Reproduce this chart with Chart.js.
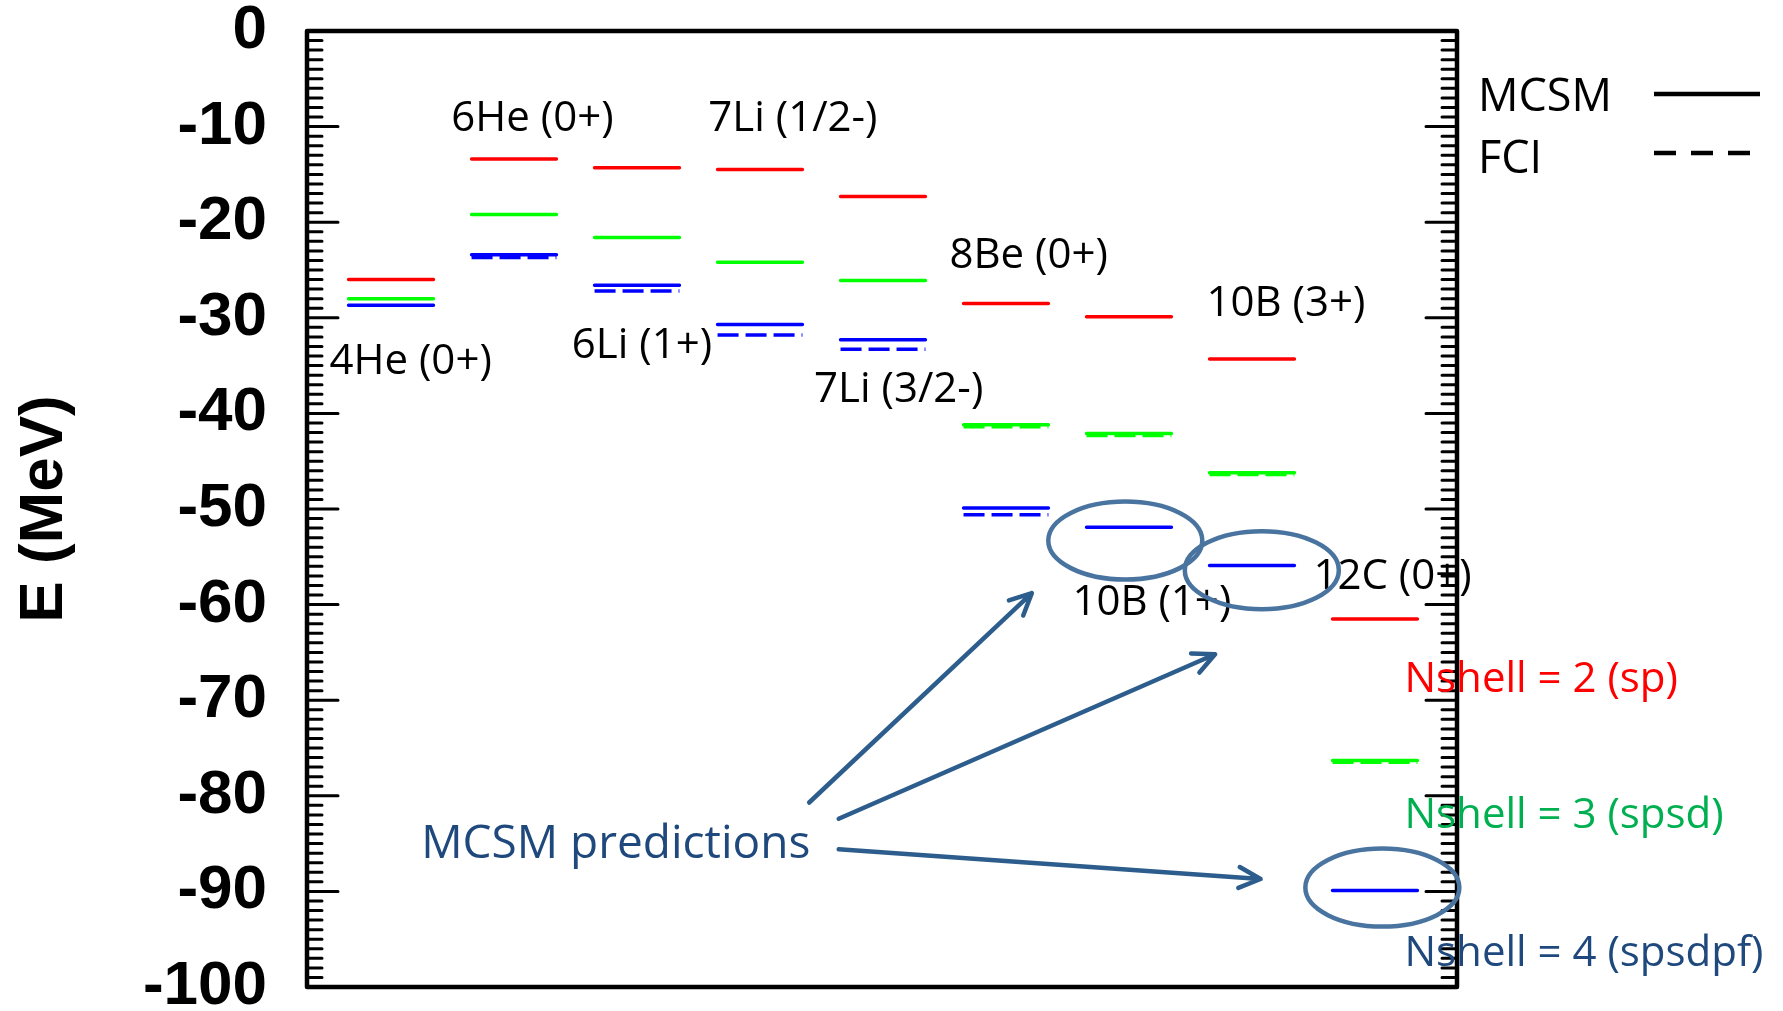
<!DOCTYPE html>
<html>
<head>
<meta charset="utf-8">
<script src="https://cdn.jsdelivr.net/npm/chart.js@4.4.1/dist/chart.umd.min.js"></script>
<style>
  html, body { margin: 0; padding: 0; background: #fff; }
  #wrap { width: 1783px; height: 1011px; }
</style>
</head>
<body>
<div id="wrap"><canvas id="levels" width="1783" height="1011"></canvas></div>
<script>
// ---------------------
// Data (MeV), one column per nucleus
// ---------------------
const nuclei = ['4He (0+)', '6He (0+)', '6Li (1+)', '7Li (1/2-)', '7Li (3/2-)', '8Be (0+)', '10B (1+)', '10B (3+)', '12C (0+)'];

// MCSM, solid lines
const mcsmSp     = [-26.0, -13.4, -14.3, -14.5, -17.3, -28.5, -29.9, -34.3, -61.5];
const mcsmSpsd   = [-28.0, -19.2, -21.6, -24.2, -26.1, -41.2, -42.1, -46.2, -76.3];
const mcsmSpsdpf = [-28.7, -23.4, -26.6, -30.7, -32.3, -49.9, -51.9, -55.9, -89.9];

// FCI, dashed lines (null = no dashed level visible)
const fciSpsd   = [null, null, null, null, null, -41.4, -42.3, -46.4, -76.5];
const fciSpsdpf = [null, -23.7, -27.2, -31.8, -33.3, -50.6, null, null, null];

const yTicks = [0, -10, -20, -30, -40, -50, -60, -70, -80, -90, -100];

const shellLabels = ['Nshell = 2 (sp)', 'Nshell = 3 (spsd)', 'Nshell = 4 (spsdpf)'];

// ---------------------
// helpers
// ---------------------
const HALF = 0.345;  // half width of a level, in column units

function levelPoints(vals) {
  const pts = [];
  vals.forEach((v, i) => {
    if (v === null) return;
    const c = i + 1;
    pts.push({x: c - HALF, y: v}, {x: c + HALF, y: v}, {x: c + 0.5, y: null});
  });
  return pts;
}

function level(vals, color, dashed) {
  return {
    data: levelPoints(vals),
    borderColor: color,
    borderWidth: 3.5,
    borderDash: dashed ? [21, 7] : [],
    borderCapStyle: dashed ? 'butt' : 'round',
    pointRadius: 0,
    spanGaps: false,
    order: dashed ? 1 : 0
  };
}

const TEXT_FONT = '42px "Open Sans"';
const BLUE_TXT = '#1f497d';
const RING = '#4a74a0';
const ARROW = '#2c5d8c';

// annotation anchors, in data units (column, MeV)
const labelAt = [[0.50, -34.6], [1.49, -9.2], [2.47, -33.0], [3.58, -9.2], [4.44, -37.6],
                 [5.54, -23.5], [6.54, -59.8], [7.63, -28.6], [8.50, -57.1]];
const shellAt = [[9.24, -67.9], [9.24, -82.1], [9.24, -96.5]];
const shellColors = ['#ff0000', '#00b050', BLUE_TXT];
const ringAt = [[6.97, -53.3], [8.08, -56.4], [9.06, -89.6]];
const arrows = [[[4.40, -80.7], [6.21, -58.8]],
                [[4.64, -82.4], [7.70, -65.2]],
                [[4.64, -85.6], [8.07, -88.7]]];

// ---------------------
// plugins
// ---------------------
const framePlugin = {
  id: 'frame',
  beforeDatasetsDraw(chart) {
    const {ctx, chartArea: a, scales: {y}} = chart;
    ctx.save();
    ctx.strokeStyle = '#000';
    ctx.lineWidth = 3;
    ctx.lineCap = 'round';
    for (let v = 0; v >= -100; v--) {
      const py = y.getPixelForValue(v);
      const len = v % 10 === 0 ? 31 : 15;
      ctx.beginPath();
      ctx.moveTo(a.left, py); ctx.lineTo(a.left + len, py);
      ctx.moveTo(a.right, py); ctx.lineTo(a.right - len, py);
      ctx.stroke();
    }
    ctx.lineWidth = 4.5;
    ctx.lineJoin = 'round';
    ctx.strokeRect(a.left, a.top, a.right - a.left, a.bottom - a.top);
    ctx.restore();
  }
};

function drawArrow(ctx, x0, y0, x1, y1) {
  const ang = Math.atan2(y1 - y0, x1 - x0);
  const head = 24, spread = 0.45;
  ctx.beginPath();
  ctx.moveTo(x0, y0); ctx.lineTo(x1, y1);
  ctx.moveTo(x1 - head * Math.cos(ang - spread), y1 - head * Math.sin(ang - spread));
  ctx.lineTo(x1, y1);
  ctx.lineTo(x1 - head * Math.cos(ang + spread), y1 - head * Math.sin(ang + spread));
  ctx.stroke();
}

const notesPlugin = {
  id: 'notes',
  afterDatasetsDraw(chart) {
    const {ctx, chartArea: a, scales: {x, y}} = chart;
    const px = p => [x.getPixelForValue(p[0]), y.getPixelForValue(p[1])];
    ctx.save();
    ctx.textAlign = 'left';
    ctx.textBaseline = 'middle';

    // nucleus labels
    ctx.font = TEXT_FONT;
    ctx.fillStyle = '#000';
    nuclei.forEach((n, i) => {
      const [tx, ty] = px(labelAt[i]);
      ctx.fillText(n, tx, ty);
    });

    // Nshell labels
    shellLabels.forEach((s, i) => {
      const [tx, ty] = px(shellAt[i]);
      ctx.fillStyle = shellColors[i];
      ctx.fillText(s, tx, ty);
    });

    // MCSM predictions
    ctx.font = '46px "Open Sans"';
    ctx.fillStyle = BLUE_TXT;
    const [mx, my] = px([1.245, -85.1]);
    ctx.fillText('MCSM predictions', mx, my);

    // rings around predicted levels
    ctx.strokeStyle = RING;
    ctx.lineWidth = 4.5;
    ringAt.forEach(r => {
      const [cx, cy] = px(r);
      ctx.beginPath();
      ctx.ellipse(cx, cy, 77, 39, 0, 0, Math.PI * 2);
      ctx.stroke();
    });

    // arrows
    ctx.strokeStyle = ARROW;
    ctx.lineWidth = 4.5;
    ctx.lineCap = 'round';
    ctx.lineJoin = 'round';
    arrows.forEach(([p0, p1]) => {
      const [x0, y0] = px(p0), [x1, y1] = px(p1);
      drawArrow(ctx, x0, y0, x1, y1);
    });

    // legend
    const lx = a.right + 21;
    ctx.font = '45px "Open Sans"';
    ctx.fillStyle = '#000';
    ctx.fillText('MCSM', lx, 98);
    ctx.fillText('FCI', lx, 160);
    ctx.strokeStyle = '#000';
    ctx.lineWidth = 4.5;
    ctx.lineCap = 'butt';
    ctx.beginPath();
    ctx.moveTo(a.right + 197, 94); ctx.lineTo(a.right + 303, 94);
    ctx.stroke();
    ctx.setLineDash([22, 15]);
    ctx.beginPath();
    ctx.moveTo(a.right + 197, 153); ctx.lineTo(a.right + 294, 153);
    ctx.stroke();
    ctx.restore();
  }
};

// ---------------------
// chart
// ---------------------
const ctx = document.getElementById('levels').getContext('2d');

const levelChart = new Chart(ctx, {
  type: 'line',
  data: {
    datasets: [
      level(mcsmSp, '#ff0000', false),
      level(mcsmSpsd, '#00ff00', false),
      level(mcsmSpsdpf, '#0000ff', false),
      level(fciSpsd, '#00ff00', true),
      level(fciSpsdpf, '#0000ff', true)
    ]
  },
  options: {
    responsive: false,
    animation: false,
    layout: {autoPadding: false, padding: {left: 0, top: 31, right: 326, bottom: 24}},
    plugins: {legend: {display: false}, tooltip: {enabled: false}},
    scales: {
      x: {type: 'linear', min: 0.317, max: 9.667, display: false},
      y: {
        type: 'linear', min: -100, max: 0,
        afterBuildTicks: s => { s.ticks = yTicks.map(v => ({value: v})); },
        afterFit: s => { s.width = 307; s.paddingTop = 0; s.paddingBottom = 0; },
        grid: {display: false, drawTicks: false},
        border: {display: false},
        ticks: {
          color: '#000', padding: 40,
          font: {family: '"Liberation Sans", Arial', size: 62, weight: 'bold', lineHeight: 0.7}
        },
        title: {
          display: true, text: 'E (MeV)', color: '#000',
          font: {family: '"Liberation Sans", Arial', size: 62, weight: 'bold'},
          padding: {top: 8, bottom: 0}
        }
      }
    }
  },
  plugins: [framePlugin, notesPlugin]
});
</script>
</body>
</html>
